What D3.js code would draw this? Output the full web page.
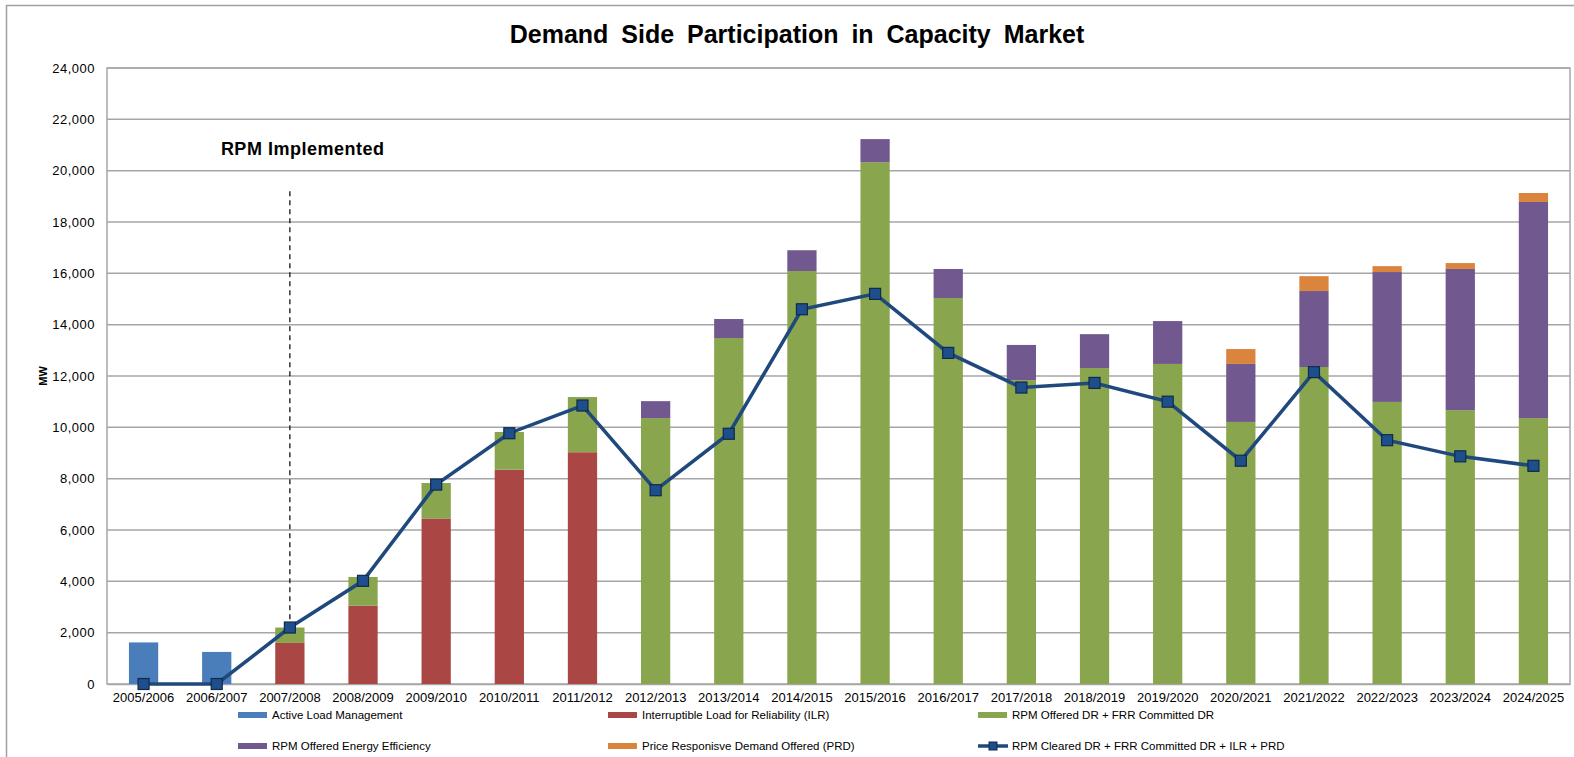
<!DOCTYPE html>
<html>
<head>
<meta charset="utf-8">
<script src="https://cdn.jsdelivr.net/npm/d3@7"></script>
<style>
  body { margin: 0; background: #fff; }
  svg { display: block; font-family: "Liberation Sans", Arial, sans-serif; }
</style>
</head>
<body>
<div id="chart"></div>
<script>
// delivery years
var years = ["2005/2006","2006/2007","2007/2008","2008/2009","2009/2010","2010/2011","2011/2012",
  "2012/2013","2013/2014","2014/2015","2015/2016","2016/2017","2017/2018","2018/2019",
  "2019/2020","2020/2021","2021/2022","2022/2023","2023/2024","2024/2025"];

// stacked bar series (MW)
var activeLoad = [1620, 1250, 0, 0, 0, 0, 0, 0, 0, 0, 0, 0, 0, 0, 0, 0, 0, 0, 0, 0];
var ilr        = [0, 0, 1600, 3050, 6450, 8350, 9030, 0, 0, 0, 0, 0, 0, 0, 0, 0, 0, 0, 0, 0];
var rpmDR      = [0, 0, 600, 1120, 1380, 1470, 2150, 10360, 13480, 16090, 20330, 15040, 11840, 12310, 12470, 10210, 12350, 10990, 10670, 10360];
var rpmEE      = [0, 0, 0, 0, 0, 0, 0, 660, 740, 810, 900, 1130, 1370, 1320, 1670, 2260, 2960, 5060, 5500, 8420];
var prd        = [0, 0, 0, 0, 0, 0, 0, 0, 0, 0, 0, 0, 0, 0, 0, 580, 580, 230, 230, 350];

// line: RPM Cleared DR + FRR Committed DR + ILR + PRD
var cleared = [0, 0, 2200, 4020, 7770, 9770, 10850, 7550, 9750, 14600, 15200, 12900, 11550, 11730, 11000, 8700, 12150, 9500, 8870, 8500];

var yTicks = d3.range(0, 24001, 2000);

var seriesNames = ["Active Load Management", "Interruptible Load for Reliability (ILR)",
  "RPM Offered DR + FRR Committed DR", "RPM Offered Energy Efficiency",
  "Price Responisve Demand Offered (PRD)"];
var seriesColors = ["#4a7ebb", "#aa4643", "#89a54e", "#71588f", "#db843d"];
var lineName = "RPM Cleared DR + FRR Committed DR + ILR + PRD";

var svgWidth = 1574, svgHeight = 757;
var margin = { top: 68, right: 4, bottom: 73, left: 107 };
var width = svgWidth - margin.left - margin.right;
var height = svgHeight - margin.top - margin.bottom;

var svg = d3.select("#chart").append("svg")
  .attr("width", svgWidth)
  .attr("height", svgHeight);

// outer chart frame
svg.append("rect")
  .attr("x", 6.5).attr("y", 5.5)
  .attr("width", svgWidth + 20).attr("height", svgHeight + 20)
  .attr("fill", "none").attr("stroke", "#a0a0a0").attr("stroke-width", 1.5);

svg.append("text")
  .attr("x", 797).attr("y", 43)
  .attr("text-anchor", "middle")
  .attr("font-size", 25).attr("font-weight", "bold")
  .attr("word-spacing", 6)
  .text("Demand Side Participation in Capacity Market");

var chartGroup = svg.append("g")
  .attr("transform", `translate(${margin.left}, ${margin.top})`);

var x = d3.scaleBand().domain(years).range([0, width]).paddingInner(0.6).paddingOuter(0.3);
var xc = d3.scaleBand().domain(years).range([0, width]);
var y = d3.scaleLinear().domain([0, 24000]).range([height, 0]);

// gridlines
chartGroup.append("g")
  .selectAll("line")
  .data(yTicks.slice(1))
  .join("line")
  .attr("x1", 0).attr("x2", width)
  .attr("y1", d => y(d)).attr("y2", d => y(d))
  .attr("stroke", "#a6a6a6").attr("stroke-width", 1.5);

// plot border
chartGroup.append("rect")
  .attr("width", width).attr("height", height)
  .attr("fill", "none").attr("stroke", "#a6a6a6").attr("stroke-width", 1.5);

// y axis
var leftAxis = d3.axisLeft(y).tickValues(yTicks).tickSize(0).tickPadding(12)
  .tickFormat(d3.format(","));
var yg = chartGroup.append("g").call(leftAxis);
yg.select(".domain").remove();
yg.selectAll("text").attr("font-size", 13).attr("fill", "#000")
  .attr("font-family", "Liberation Sans, Arial, sans-serif").attr("letter-spacing", 0.5);

chartGroup.append("text")
  .attr("transform", "rotate(-90)")
  .attr("x", -height / 2 + 0)
  .attr("y", -60)
  .attr("text-anchor", "middle")
  .attr("font-size", 11).attr("font-weight", "bold")
  .text("MW");

// x axis
var bottomAxis = d3.axisBottom(xc).tickSize(0).tickPadding(9);
var xg = chartGroup.append("g").attr("transform", `translate(0, ${height})`).call(bottomAxis);
xg.select(".domain").attr("stroke", "#a6a6a6").attr("stroke-width", 1.5);
xg.selectAll("text").attr("font-size", 13).attr("fill", "#000")
  .attr("font-family", "Liberation Sans, Arial, sans-serif");

// stacked bars
var table = years.map((yr, i) => ({
  year: yr, s0: activeLoad[i], s1: ilr[i], s2: rpmDR[i], s3: rpmEE[i], s4: prd[i]
}));
var stack = d3.stack().keys(["s0", "s1", "s2", "s3", "s4"]);
var layers = stack(table);

chartGroup.append("g")
  .selectAll("g")
  .data(layers)
  .join("g")
  .attr("fill", (d, i) => seriesColors[i])
  .selectAll("rect")
  .data(d => d.filter(p => p[1] > p[0]))
  .join("rect")
  .attr("x", d => x(d.data.year))
  .attr("width", x.bandwidth())
  .attr("y", d => y(d[1]))
  .attr("height", d => y(d[0]) - y(d[1]));

// RPM implemented marker
var rpmX = xc("2007/2008") + xc.bandwidth() / 2;
chartGroup.append("line")
  .attr("x1", rpmX).attr("x2", rpmX)
  .attr("y1", y(19200)).attr("y2", y(2200))
  .attr("stroke", "#000").attr("stroke-width", 1.2)
  .attr("stroke-dasharray", "5,4");

chartGroup.append("text")
  .attr("x", rpmX - 69).attr("y", y(20600))
  .attr("font-size", 18).attr("font-weight", "bold")
  .attr("letter-spacing", 0.5)
  .text("RPM Implemented");

// cleared line
var line = d3.line()
  .x((d, i) => xc(years[i]) + xc.bandwidth() / 2)
  .y(d => y(d));

chartGroup.append("path")
  .datum(cleared)
  .attr("d", line)
  .attr("fill", "none")
  .attr("stroke", "#1f497d")
  .attr("stroke-width", 3.5);

chartGroup.append("g")
  .selectAll("rect")
  .data(cleared)
  .join("rect")
  .attr("x", (d, i) => xc(years[i]) + xc.bandwidth() / 2 - 5.5)
  .attr("y", d => y(d) - 5.5)
  .attr("width", 11).attr("height", 11)
  .attr("fill", "#1f4e8c")
  .attr("stroke", "#0f2a4a").attr("stroke-width", 1.2);

// legend
var legendItems = [
  { name: seriesNames[0], color: seriesColors[0], col: 0, row: 0 },
  { name: seriesNames[1], color: seriesColors[1], col: 1, row: 0 },
  { name: seriesNames[2], color: seriesColors[2], col: 2, row: 0 },
  { name: seriesNames[3], color: seriesColors[3], col: 0, row: 1 },
  { name: seriesNames[4], color: seriesColors[4], col: 1, row: 1 },
  { name: lineName, color: "#1f497d", col: 2, row: 1, line: true }
];
var colX = [238, 608, 978];
var rowY = [715, 746];

var leg = svg.append("g").selectAll("g")
  .data(legendItems)
  .join("g")
  .attr("transform", d => `translate(${colX[d.col]}, ${rowY[d.row]})`);

leg.filter(d => !d.line).append("rect")
  .attr("x", 0).attr("y", -3).attr("width", 29).attr("height", 6)
  .attr("fill", d => d.color);

leg.filter(d => d.line).append("line")
  .attr("x1", 0).attr("x2", 30).attr("y1", 0).attr("y2", 0)
  .attr("stroke", d => d.color).attr("stroke-width", 3.5);
leg.filter(d => d.line).append("rect")
  .attr("x", 11).attr("y", -4).attr("width", 8).attr("height", 8)
  .attr("fill", "#1f4e8c").attr("stroke", "#0f2a4a");

leg.append("text")
  .attr("x", 34).attr("y", 4)
  .attr("font-size", 11.5)
  .text(d => d.name);
</script>
</body>
</html>
